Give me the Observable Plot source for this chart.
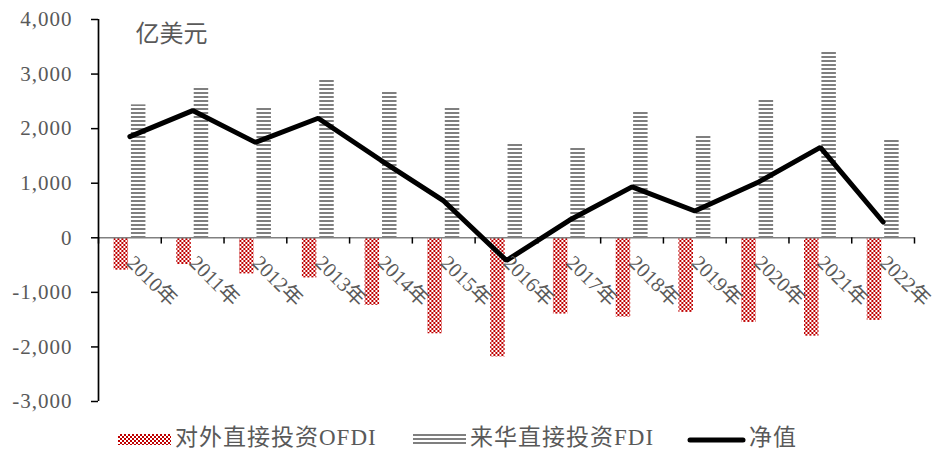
<!DOCTYPE html>
<html>
<head>
<meta charset="utf-8">
<script src="https://cdn.jsdelivr.net/npm/d3@7"></script>
<script src="https://cdn.jsdelivr.net/npm/@observablehq/plot@0.6"></script>
<style>
  body { margin: 0; background: #fff; }
  #wrap { width: 933px; }
  svg text { font-family: "Liberation Serif", "Noto Sans CJK SC", serif; }
</style>
</head>
<body>
<svg width="0" height="0" style="position:absolute">
  <defs>
    <pattern id="checker" patternUnits="userSpaceOnUse" width="4" height="4">
      <rect x="0" y="0" width="4" height="4" fill="#ffffff"/>
      <rect x="0" y="0" width="2" height="2" fill="#c00000"/>
      <rect x="2" y="2" width="2" height="2" fill="#c00000"/>
    </pattern>
    <pattern id="stripes" patternUnits="userSpaceOnUse" width="4" height="4">
      <rect x="0" y="0" width="4" height="2" fill="#7f7f7f"/>
    </pattern>
  </defs>
</svg>
<div id="wrap"></div>
<script>
const years = ["2010年","2011年","2012年","2013年","2014年","2015年","2016年","2017年","2018年","2019年","2020年","2021年","2022年"];
const ofdi = [-594, -490, -662, -736, -1238, -1759, -2183, -1398, -1453, -1367, -1551, -1803, -1514];
const fdi = [2436, 2773, 2392, 2902, 2686, 2392, 1730, 1656, 2318, 1871, 2534, 3422, 1803];
const net = [1853, 2331, 1748, 2190, 1420, 675, -416, 320, 933, 491, 1012, 1656, 289];
const yTicks = [-3000, -2000, -1000, 0, 1000, 2000, 3000, 4000];
const unitLabel = "亿美元";
const seriesNames = ["对外直接投资OFDI", "来华直接投资FDI", "净值"];

const rows = years.map((y, i) => ({year: y, ofdi: ofdi[i], fdi: fdi[i], net: net[i], lo: -3000, hi: 4000, t0: 0, t1: -115}));

const W = 933, H = 418;
const mL = 98, mR = 19, mT = 19, mB = 17;
const bw = (W - mL - mR) / years.length;
const barW = 14.5;
const inset = (bw - barW) / 2;
const fmt = d => d3.format(",")(d).replace("\u2212", "-");
const gray = "#595959";
const tickW = 1.5, axisW = 1.7;

const chart = Plot.plot({
  width: W, height: H,
  marginLeft: mL, marginRight: mR, marginTop: mT, marginBottom: mB,
  style: {fontFamily: '"Liberation Serif", "Noto Sans CJK SC", serif', background: "#fff", color: gray, overflow: "visible"},
  x: {domain: years, padding: 0, round: false, axis: null},
  y: {domain: [-3000, 4000], axis: null},
  marks: [
    Plot.barY(rows, {x: "year", y: "fdi", fill: "url(#stripes)", insetLeft: inset, insetRight: inset, dx: 8.8}),
    Plot.barY(rows, {x: "year", y: "ofdi", fill: "url(#checker)", insetLeft: inset, insetRight: inset, dx: -8.6}),
    Plot.ruleY([0], {stroke: "#808080", strokeWidth: 1.5}),
    // category boundary ticks below the zero line
    Plot.ruleX(rows, {x: "year", y1: "t0", y2: "t1", dx: -bw / 2, stroke: "black", strokeWidth: tickW}),
    Plot.ruleX(rows.slice(-1), {x: "year", y1: "t0", y2: "t1", dx: bw / 2, stroke: "black", strokeWidth: tickW}),
    // y axis line
    Plot.ruleX(rows.slice(0, 1), {x: "year", y1: "lo", y2: "hi", dx: -bw / 2, stroke: "black", strokeWidth: axisW}),
    Plot.axisY({ticks: yTicks, tickSize: 7, tickPadding: 19, tickFormat: fmt, fontSize: 21, label: null}),
    Plot.line(rows, {x: "year", y: "net", stroke: "black", strokeWidth: 5, strokeLinejoin: "miter", strokeLinecap: "round"}),
    Plot.text(rows, {x: "year", y: () => 0, text: "year", rotate: 45, textAnchor: "start", lineAnchor: "top", dx: 6, dy: 16, fill: gray, fontSize: 20.5}),
    Plot.text([unitLabel], {frameAnchor: "top-left", dx: 37, dy: 5, text: d => d, fill: gray, fontSize: 24, lineAnchor: "top", textAnchor: "start"})
  ]
});

document.getElementById("wrap").appendChild(chart);
// y-axis ticks are black, labels gray
d3.select(chart).selectAll('[aria-label="y-axis tick"]').attr("stroke", "black").attr("stroke-width", 1.5);
d3.select(chart).selectAll('[aria-label="y-axis tick label"]').attr("fill", gray).style("letter-spacing", "1px");

// legend below
const ns = "http://www.w3.org/2000/svg";
const leg = d3.select("#wrap").append("svg").attr("width", W).attr("height", 36).attr("xmlns", ns).style("display", "block");
const legItems = [
  {name: seriesNames[0], kind: "checker", sx: 118, tx: 175},
  {name: seriesNames[1], kind: "stripes", sx: 413, tx: 470},
  {name: seriesNames[2], kind: "line", sx: 688, tx: 749}
];
legItems.forEach(it => {
  if (it.kind === "line") {
    leg.append("line").attr("x1", it.sx + 2).attr("x2", it.sx + 55).attr("y1", 22).attr("y2", 22)
      .attr("stroke", "black").attr("stroke-width", 5).attr("stroke-linecap", "round");
  } else {
    leg.append("rect").attr("x", it.sx).attr("y", 16).attr("width", 53).attr("height", it.kind === "checker" ? 11 : 10)
      .attr("fill", `url(#${it.kind})`);
  }
  leg.append("text").attr("x", it.tx).attr("y", 22).attr("dominant-baseline", "middle")
    .attr("fill", gray).attr("font-size", 23).style("letter-spacing", "1px").text(it.name);
});
</script>
</body>
</html>
